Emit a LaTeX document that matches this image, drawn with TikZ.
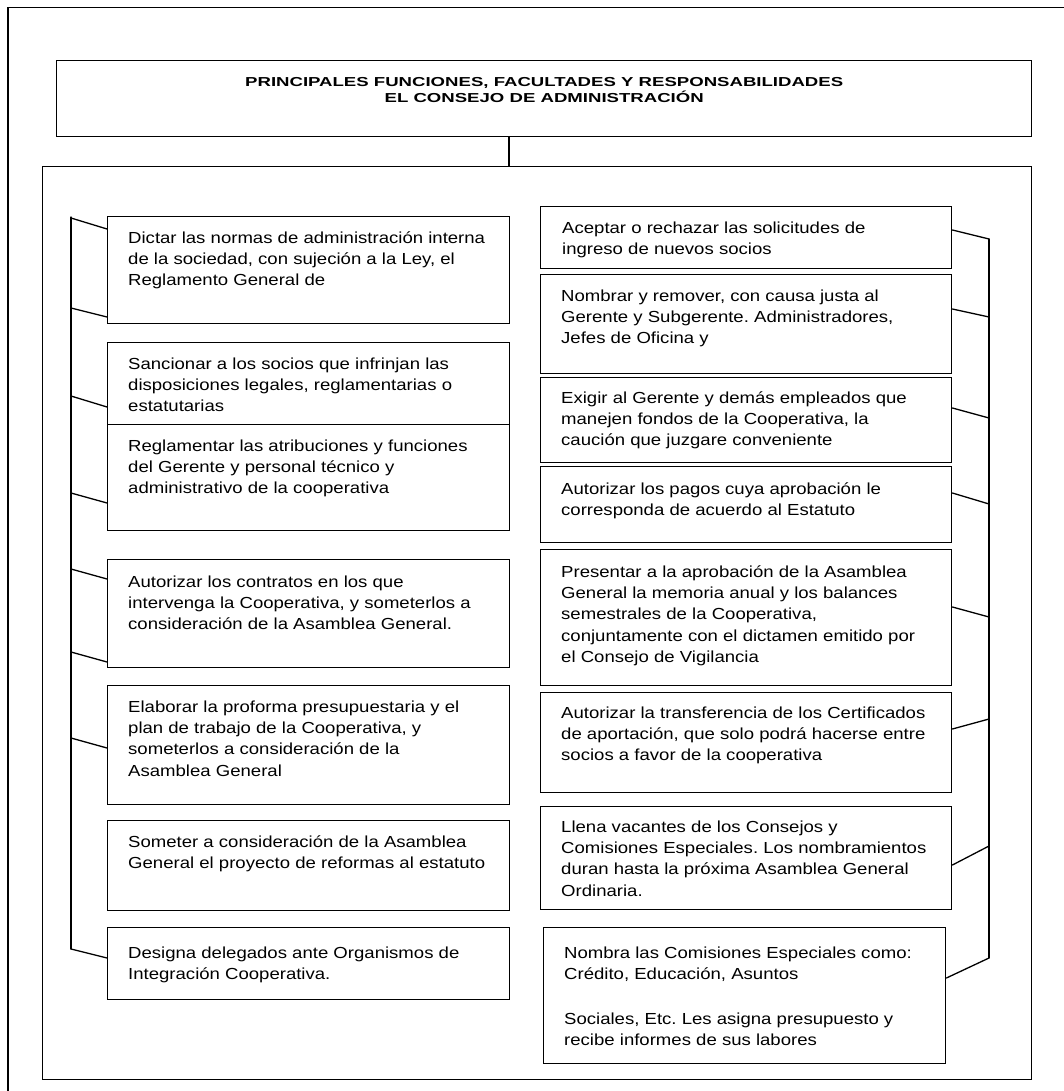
\documentclass[tikz,border=0pt]{standalone}
\usepackage{fontspec}
\setmainfont{Liberation Sans}
\newfontfamily\bodyface[FakeStretch=1.16]{Liberation Sans}
\newfontfamily\headface[FakeStretch=1.43]{Liberation Sans}
\newcommand\bodytext{\bodyface\fontsize{16}{21.3}\selectfont\frenchspacing}
\newcommand\headtext{\headface\bfseries\fontsize{13}{16}\selectfont\frenchspacing}

% one framed duty: name, x, y, width, height, text drop, text
\newcommand\fnbox[7]{%
  \node[cell, minimum width=#4, minimum height=#5] (#1) at (#2,#3) {};
  \node[celltext] (#1-t) at ([xshift=21pt, yshift=-#6pt]#1.north west) {\strut #7};
}

\begin{document}
\begin{tikzpicture}[x=1pt, y=-1pt,
  cell/.style={draw, line width=1.4pt, inner sep=0pt, anchor=north west},
  celltext/.style={anchor=north west, inner sep=0pt, align=left, font=\bodytext},
  link/.style={draw, line width=1.3pt, line cap=round, line join=round}]
\useasboundingbox (0,0) rectangle (1064,1091);

% page frame
\draw[line width=1.6pt] (8,1100) -- (8,7.5) -- (1075,7.5);

% heading and the panel below it
\node[cell, minimum width=975, minimum height=76] (title) at (56,60) {};
\node[anchor=center, inner sep=0pt, align=center, font=\headtext] (title-t)
  at ([yshift=-30pt]title.north)
  {PRINCIPALES FUNCIONES, FACULTADES Y RESPONSABILIDADES\\EL CONSEJO DE ADMINISTRACIÓN};
\node[cell, minimum width=989, minimum height=913] (panel) at (42,166) {};
\coordinate (stem) at (509,0);
\draw[link] (title.south -| stem) -- (panel.north -| stem);

% left column
\fnbox{L1}{107}{216}{402}{107}{12}{Dictar las normas de administración interna\\de la sociedad, con sujeción a la Ley, el\\Reglamento General de}
\fnbox{L2}{107}{342}{402}{82}{12}{Sancionar a los socios que infrinjan las\\disposiciones legales, reglamentarias o\\estatutarias}
\fnbox{L3}{107}{424}{402}{106}{12}{Reglamentar las atribuciones y funciones\\del Gerente y personal técnico y\\administrativo de la cooperativa}
\fnbox{L4}{107}{559}{402}{108}{13}{Autorizar los contratos en los que\\intervenga la Cooperativa, y someterlos a\\consideración de la Asamblea General.}
\fnbox{L5}{107}{685}{402}{119}{12}{Elaborar la proforma presupuestaria y el\\plan de trabajo de la Cooperativa, y\\someterlos a consideración de la\\Asamblea General}
\fnbox{L6}{107}{820}{402}{90}{12}{Someter a consideración de la Asamblea\\General el proyecto de reformas al estatuto}
\fnbox{L7}{107}{927}{402}{72}{16}{Designa delegados ante Organismos de\\Integración Cooperativa.}

% right column
\node[cell, minimum width=411, minimum height=62] (R1) at (540,206) {};
\begin{scope}
  \clip (540,206) rectangle (951,257);
  \node[celltext] (R1-t) at ([xshift=22pt, yshift=-12pt]R1.north west)
    {\strut Aceptar o rechazar las solicitudes de\\ingreso de nuevos socios};
\end{scope}
\fnbox{R2}{540}{274}{411}{99}{12}{Nombrar y remover, con causa justa al\\Gerente y Subgerente. Administradores,\\Jefes de Oficina y}
\fnbox{R3}{540}{377}{411}{85}{11}{Exigir al Gerente y demás empleados que\\manejen fondos de la Cooperativa, la\\caución que juzgare conveniente}
\fnbox{R4}{540}{466}{411}{76}{13}{Autorizar los pagos cuya aprobación le\\corresponda de acuerdo al Estatuto}
\fnbox{R5}{540}{549}{411}{136}{13}{Presentar a la aprobación de la Asamblea\\General la memoria anual y los balances\\semestrales de la Cooperativa,\\conjuntamente con el dictamen emitido por\\el Consejo de Vigilancia}
\fnbox{R6}{540}{692}{411}{100}{11}{Autorizar la transferencia de los Certificados\\de aportación, que solo podrá hacerse entre\\socios a favor de la cooperativa}
\fnbox{R7}{540}{806}{411}{103}{11}{Llena vacantes de los Consejos y\\Comisiones Especiales. Los nombramientos\\duran hasta la próxima Asamblea General\\Ordinaria.}
\fnbox{R8}{543}{927}{402}{136}{16}{Nombra las Comisiones Especiales como:\\Crédito, Educación, Asuntos\\[23.7pt]Sociales, Etc. Les asigna presupuesto y\\recibe informes de sus labores}

% left bracket
\coordinate (lb-top) at (71,217);
\coordinate (lb-bot) at (71,949);
\draw[link] (lb-top) -- (lb-bot);
\coordinate (lb1) at (71,218);
\coordinate (lb1b) at (71,308);
\coordinate (lb2) at (71,396);
\coordinate (lb3) at (71,493);
\coordinate (lb4) at (71,569);
\coordinate (lb4b) at (71,652);
\coordinate (lb5) at (71,738);
\draw[link] (lb1) -- ([yshift=-13pt]L1.north west);
\draw[link] (lb1b) -- ([yshift=-101pt]L1.north west);
\draw[link] (lb2) -- ([yshift=-65pt]L2.north west);
\draw[link] (lb3) -- ([yshift=-79pt]L3.north west);
\draw[link] (lb4) -- ([yshift=-20pt]L4.north west);
\draw[link] (lb4b) -- ([yshift=-103pt]L4.north west);
\draw[link] (lb5) -- ([yshift=-63pt]L5.north west);
\draw[link] (lb-bot) -- ([yshift=-31pt]L7.north west);

% right bracket
\coordinate (rb-top) at (989,239);
\coordinate (rb-bot) at (989,958);
\draw[link] (rb-top) -- (rb-bot);
\coordinate (rb2) at (989,317);
\coordinate (rb3) at (989,418);
\coordinate (rb4) at (989,504);
\coordinate (rb5) at (989,617);
\coordinate (rb6) at (989,719);
\coordinate (rb7) at (989,846);
\draw[link] ([yshift=-24pt]R1.north east) -- (rb-top);
\draw[link] ([yshift=-35pt]R2.north east) -- (rb2);
\draw[link] ([yshift=-31pt]R3.north east) -- (rb3);
\draw[link] ([yshift=-27pt]R4.north east) -- (rb4);
\draw[link] ([yshift=-58pt]R5.north east) -- (rb5);
\draw[link] ([yshift=-37pt]R6.north east) -- (rb6);
\draw[link] ([yshift=-59pt]R7.north east) -- (rb7);
\draw[link] ([yshift=-51pt]R8.north east) -- (rb-bot);
\end{tikzpicture}
\end{document}
